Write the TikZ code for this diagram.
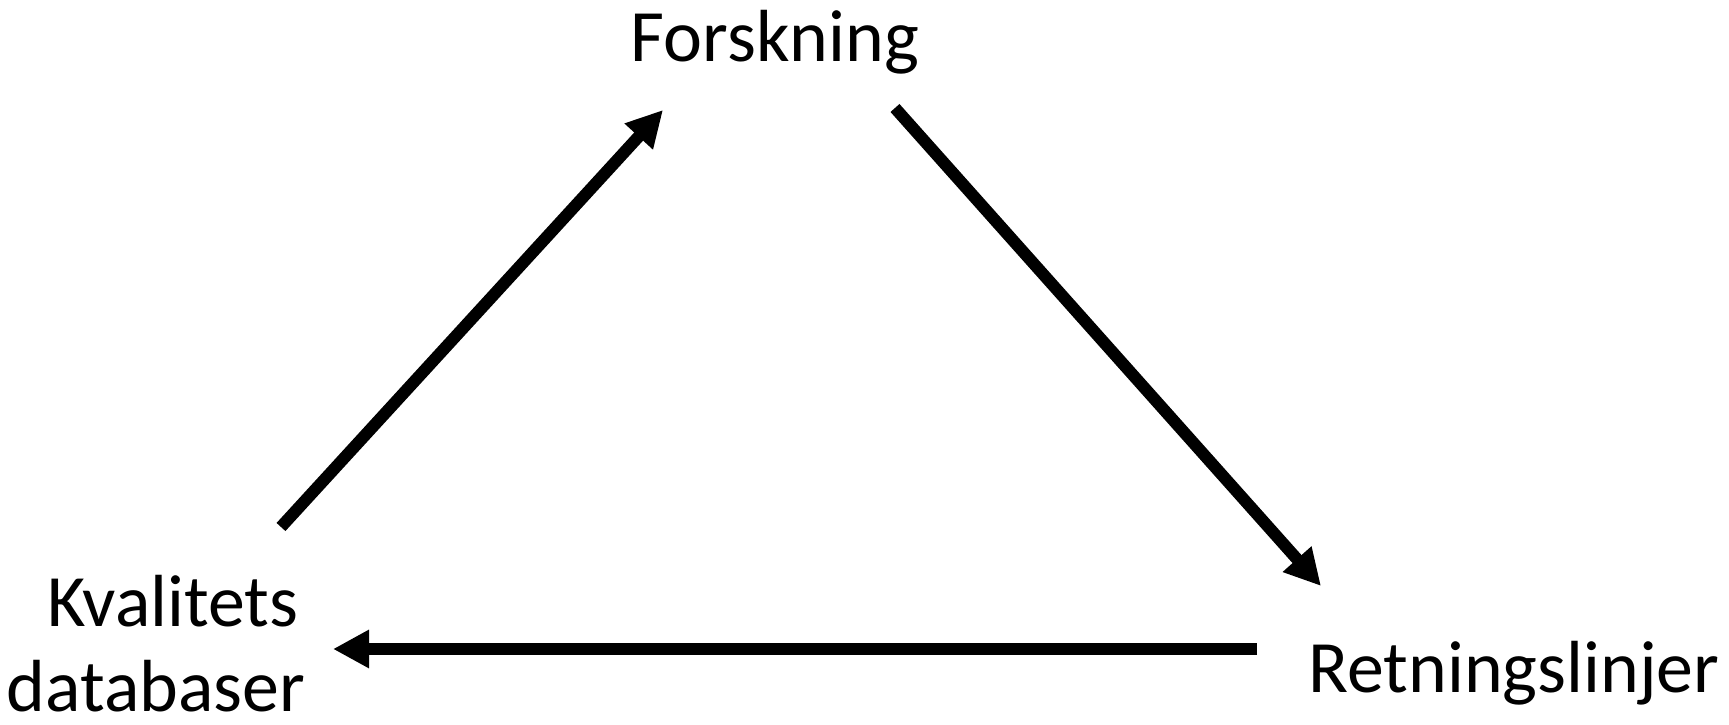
\documentclass[tikz,border=0pt]{standalone}
\usepackage{fontspec}
\setmainfont{Carlito}
\usetikzlibrary{arrows.meta}

\begin{document}
\begin{tikzpicture}[x=0.01cm, y=-0.01cm,
    label/.style={inner sep=0pt, font=\fontsize{21}{24.2}\selectfont},
    flow/.style={-{Triangle[length=3.6mm, width=3.6mm]}, line width=1.2mm}]
  \useasboundingbox (0,0) rectangle (1729,725);
  \node[label, anchor=base] (fo) at (775,62) {Forskning};
  \node[label, anchor=base] (re) at (1514,693) {Retningslinjer};
  \node[label, anchor=base, align=center] (kd) at (156,712) {\hspace*{0.34cm}Kvalitets\\databaser};
  % arrow ends near the labels
  \coordinate (kd-out) at (281,527);
  \coordinate (fo-in) at (663,110);
  \coordinate (fo-out) at (895,108);
  \coordinate (re-in) at (1321,586);
  \coordinate (re-out) at (1257,649);
  \coordinate (kd-in) at (333,649);
  \draw[flow] (kd-out) -- (fo-in);
  \draw[flow] (fo-out) -- (re-in);
  \draw[flow] (re-out) -- (kd-in);
\end{tikzpicture}
\end{document}
